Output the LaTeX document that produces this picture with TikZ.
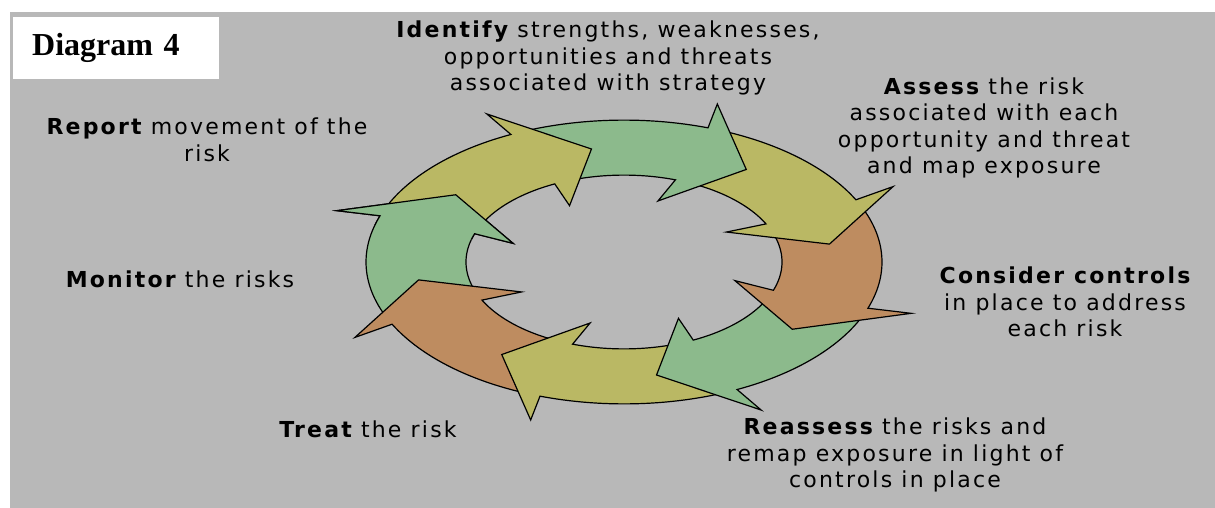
\documentclass[tikz,border=0pt]{standalone}
\usepackage{fontspec}
\usepackage{xcolor}
\usepackage{tikz}
\usetikzlibrary{calc}
\newfontfamily\cyclefont{DejaVu Sans}[LetterSpace=10]
\newfontfamily\titlefont{Liberation Serif}
\definecolor{cBack}{HTML}{B8B8B8}
\definecolor{cGreen}{HTML}{8CBA8C}
\definecolor{cOlive}{HTML}{BAB864}
\definecolor{cBrown}{HTML}{BE8C60}

\begin{document}
\begin{tikzpicture}[x=1pt,y=-1pt]
  \tikzset{
    ring/.style={draw=black, line width=1.2pt, line join=miter},
    lbl/.style={align=center, inner sep=0pt, font=\cyclefont\fontsize{22}{26.5}\selectfont},
    titlebox/.style={fill=white, anchor=north west, minimum height=62pt, text width=168pt,
      inner xsep=19pt, inner ysep=0pt, align=left, font=\titlefont\bfseries\fontsize{32}{36}\selectfont},
  }
  \def\cx{624} \def\cy{262} \def\ek{0.55}
  \useasboundingbox (0,0) rectangle (1215,508);
  \fill[white] (0,0) rectangle (1215,508);
  \fill[cBack] (10,12) rectangle (1215,508);
  % ring of arrows, drawn backwards so that each head lies on the next tail
  \foreach \tip/\col in {216/cGreen, 171/cBrown, 126/cOlive, 81/cGreen, 36/cBrown, -9/cOlive, -54/cGreen, -99/cOlive} {
    \pgfmathsetmacro\ta{\tip-58}
    \pgfmathsetmacro\tb{\tip-17}
    \filldraw[ring, fill=\col]
      plot[domain=\ta:\tb, samples=30] ({\cx+258*cos(\x)}, {\cy+258*\ek*sin(\x)})
      -- ({\cx+302*cos(\tip-18)}, {\cy+302*\ek*sin(\tip-18)})
      -- ({\cx+208*cos(\tip)}, {\cy+208*\ek*sin(\tip)})
      -- ({\cx+116*cos(\tip-19)}, {\cy+116*\ek*sin(\tip-19)})
      -- plot[domain=\tb:\ta, samples=30] ({\cx+158*cos(\x)}, {\cy+158*\ek*sin(\x)})
      -- cycle;
  }
  % head of the left arrow back on top of the first tail
  \begin{scope}
    \clip (\cx,\cy) -- ({\cx+420*cos(195)}, {\cy+420*\ek*sin(195)})
      -- ({\cx+420*cos(208)}, {\cy+420*\ek*sin(208)})
      -- ({\cx+420*cos(222)}, {\cy+420*\ek*sin(222)}) -- cycle;
    \filldraw[ring, fill=cGreen]
      plot[domain=158:199, samples=30] ({\cx+258*cos(\x)}, {\cy+258*\ek*sin(\x)})
      -- ({\cx+302*cos(198)}, {\cy+302*\ek*sin(198)})
      -- ({\cx+208*cos(216)}, {\cy+208*\ek*sin(216)})
      -- ({\cx+116*cos(197)}, {\cy+116*\ek*sin(197)})
      -- plot[domain=199:158, samples=30] ({\cx+158*cos(\x)}, {\cy+158*\ek*sin(\x)})
      -- cycle;
  \end{scope}
  % labels round the ring
  \node[titlebox] (title) at (13,17) {Diagram 4};
  \node[lbl] (ident) at (608,58) {{\bfseries Identify} strengths, weaknesses,\\opportunities and threats\\associated with strategy};
  \node[lbl] (assess) at (984,128) {{\bfseries Assess} the risk\\associated with each\\opportunity and threat\\and map exposure};
  \node[lbl] (consider) at (1065,302) {{\bfseries Consider controls}\\in place to address\\each risk};
  \node[lbl] (reassess) at (895,455) {{\bfseries Reassess} the risks and\\remap exposure in light of\\controls in place};
  \node[lbl] (treat) at (368,429) {{\bfseries Treat} the risk};
  \node[lbl] (monitor) at (180,279) {{\bfseries Monitor} the risks};
  \node[lbl] (report) at (207,140) {{\bfseries Report} movement of the\\risk};
\end{tikzpicture}
\end{document}
